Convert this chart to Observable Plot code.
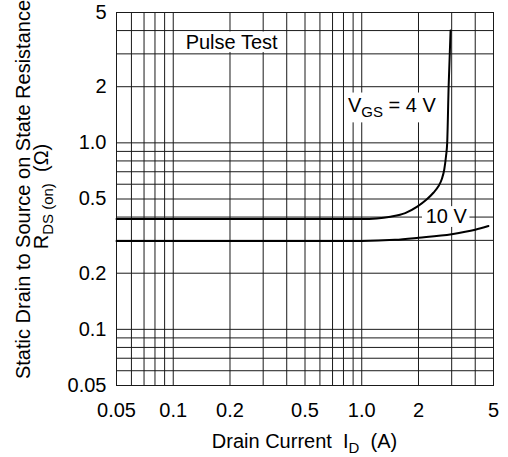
<!DOCTYPE html>
<html>
<head>
<meta charset="utf-8">
<script src="https://cdn.jsdelivr.net/npm/d3@7"></script>
<script src="https://cdn.jsdelivr.net/npm/@observablehq/plot@0.6"></script>
<style>
  html, body { margin: 0; padding: 0; background: #fff; }
  #chart svg { display: block; }
</style>
</head>
<body>
<div id="chart"></div>
<script>
// ---- data ----
const xTicks = [0.05, 0.1, 0.2, 0.5, 1, 2, 5];
const xTickLabels = ["0.05", "0.1", "0.2", "0.5", "1.0", "2", "5"];
const yTicks = [0.05, 0.1, 0.2, 0.5, 1, 2, 5];
const yTickLabels = ["0.05", "0.1", "0.2", "0.5", "1.0", "2", "5"];
const gridValues = [0.06, 0.07, 0.08, 0.09, 0.1, 0.2, 0.3, 0.4, 0.5, 0.6, 0.7, 0.8, 0.9, 1, 2, 3, 4];

// V_GS = 4 V
const id4V = [0.05, 0.5, 1.0, 1.2, 1.42, 1.7, 1.97, 2.2, 2.4, 2.55, 2.66, 2.74, 2.8, 2.84, 2.89, 2.96];
const r4V  = [0.39, 0.39, 0.39, 0.393, 0.402, 0.42, 0.455, 0.495, 0.54, 0.585, 0.64, 0.72, 0.85, 1.0, 2.0, 4.0];
// V_GS = 10 V
const id10V = [0.05, 0.5, 1.0, 1.5, 2.0, 3.0, 4.0, 4.7];
const r10V  = [0.298, 0.298, 0.298, 0.302, 0.31, 0.324, 0.342, 0.358];

// annotations
const labelTexts = ["Pulse Test", "10 V"];
const labelX = [0.204, 2.81];
const labelY = [3.46, 0.40];
const boxX1 = [0.103, 2.1, 0.835];
const boxX2 = [0.39, 3.75, 2.72];
const boxY1 = [3.05, 0.352, 1.28];
const boxY2 = [3.93, 0.455, 1.85];
const vgsLabel = {x: 0.85, y: 1.46};

// ---- build ----
const s4 = id4V.map((x, i) => ({x, y: r4V[i]}));
const s10 = id10V.map((x, i) => ({x, y: r10V[i]}));
const labels = labelTexts.map((t, i) => ({text: t, x: labelX[i], y: labelY[i]}));
const boxes = boxX1.map((x1, i) => ({x1, x2: boxX2[i], y1: boxY1[i], y2: boxY2[i]}));
const xTickData = xTicks.map((v, i) => ({v, t: xTickLabels[i]}));
const yTickData = yTicks.map((v, i) => ({v, t: yTickLabels[i]}));

const font = "'Liberation Sans', Arial, Helvetica, sans-serif";
const fs = 20;
const gridColor = "#1a1a1a";

const chart = Plot.plot({
  width: 508,
  height: 457,
  marginLeft: 116,
  marginRight: 15,
  marginTop: 12,
  marginBottom: 72,
  x: {type: "log", domain: [0.05, 5], axis: null},
  y: {type: "log", domain: [0.05, 5], axis: null},
  style: {fontFamily: font, fontSize: fs + "px", color: "black", background: "white"},
  marks: [
    Plot.ruleX(gridValues, {stroke: gridColor, strokeWidth: 1}),
    Plot.ruleY(gridValues, {stroke: gridColor, strokeWidth: 1}),
    Plot.frame({stroke: gridColor, strokeWidth: 1}),
    Plot.rect(boxes, {x1: "x1", x2: "x2", y1: "y1", y2: "y2", fill: "white"}),
    Plot.text(labels, {x: "x", y: "y", text: "text", fontSize: fs, fill: "black"}),
    Plot.line(s10, {x: "x", y: "y", curve: "monotone-x", stroke: "black", strokeWidth: 2}),
    Plot.line(s4, {x: "x", y: "y", curve: "monotone-x", stroke: "black", strokeWidth: 2}),
    Plot.text(xTickData, {x: "v", text: "t", frameAnchor: "bottom", lineAnchor: "middle", dy: 25, fontSize: fs, fill: "black"}),
    Plot.text(yTickData, {y: "v", text: "t", frameAnchor: "left", textAnchor: "end", lineAnchor: "middle", dx: -10, fontSize: fs, fill: "black"})
  ]
});

document.getElementById("chart").appendChild(chart);

// labels with subscripts via the plot's own scales
const sx = chart.scale("x");
const sy = chart.scale("y");
const svg = d3.select(chart);

const vgs = svg.append("text")
  .attr("x", sx.apply(vgsLabel.x))
  .attr("y", sy.apply(vgsLabel.y))
  .attr("text-anchor", "start")
  .attr("font-family", font).attr("font-size", fs).attr("fill", "black");
vgs.append("tspan").text("V");
vgs.append("tspan").attr("dy", 5).attr("font-size", 15).text("GS");
vgs.append("tspan").attr("dy", -5).text(" = 4 V");

// x axis title
const xt = svg.append("text")
  .attr("x", sx.apply(0.5))
  .attr("y", 448)
  .attr("text-anchor", "middle")
  .attr("font-family", font).attr("font-size", fs).attr("fill", "black")
  .attr("xml:space", "preserve");
xt.append("tspan").text("Drain Current  I");
xt.append("tspan").attr("dy", 5).attr("font-size", 15).text("D");
xt.append("tspan").attr("dy", -5).text("  (A)");

// y axis title (two lines, rotated)
const yMid = (sy.apply(5) + sy.apply(0.05)) / 2;
svg.append("text")
  .attr("transform", `translate(30,${yMid - 9}) rotate(-90)`)
  .attr("text-anchor", "middle")
  .attr("font-family", font).attr("font-size", fs).attr("fill", "black")
  .text("Static Drain to Source on State Resistance");
const yt2 = svg.append("text")
  .attr("transform", `translate(48,${yMid - 2}) rotate(-90)`)
  .attr("text-anchor", "middle")
  .attr("font-family", font).attr("font-size", fs).attr("fill", "black")
  .attr("xml:space", "preserve");
yt2.append("tspan").text("R");
yt2.append("tspan").attr("dy", 5).attr("font-size", 15).text("DS (on)");
yt2.append("tspan").attr("dy", -5).text("  (Ω)");
</script>
</body>
</html>
